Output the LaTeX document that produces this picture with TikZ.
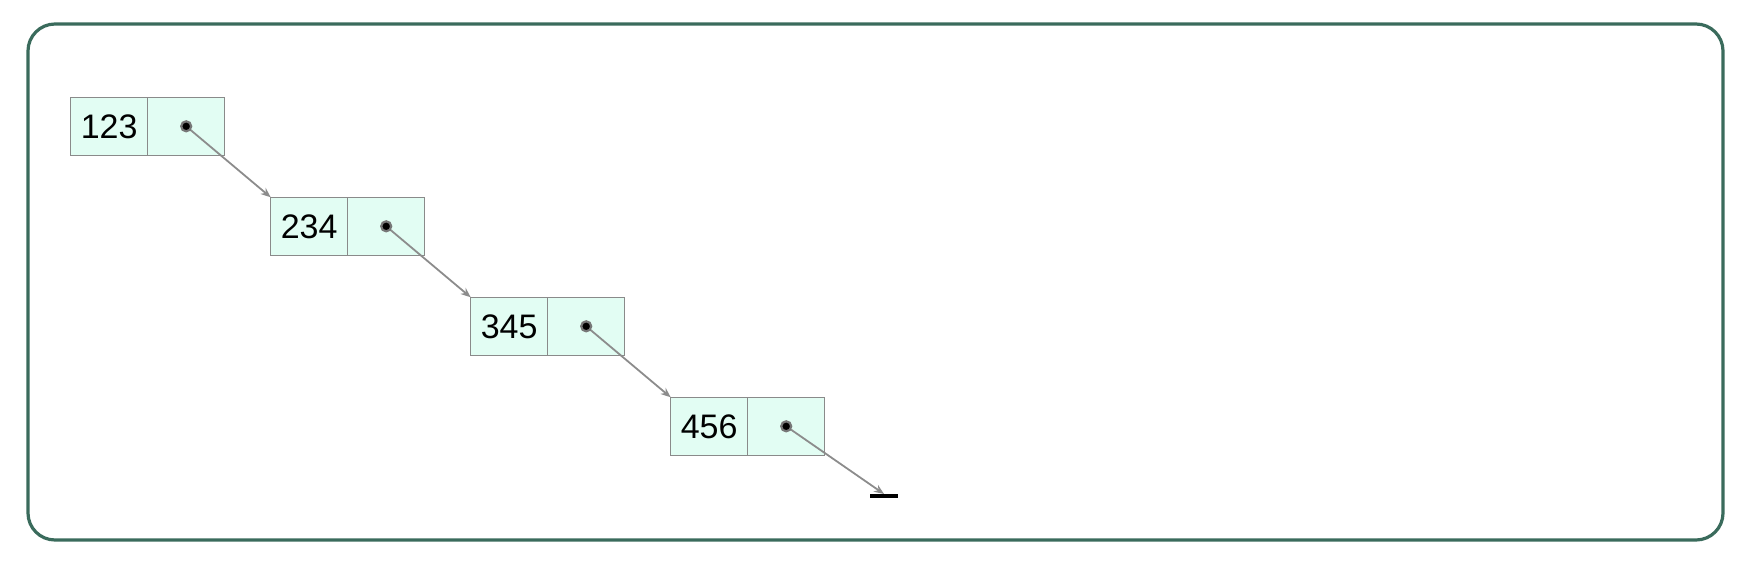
\documentclass[tikz,border=0pt]{standalone}
\usepackage{fontspec}
\setmainfont{Liberation Sans}
\usetikzlibrary{arrows.meta}
\definecolor{framec}{HTML}{3A6B5C}
\definecolor{cellfill}{HTML}{E2FDF3}
\definecolor{cellborder}{HTML}{8A8A8A}
\definecolor{arrowc}{HTML}{8C8C8C}
\tikzset{
  cell/.style={draw=cellborder, fill=cellfill, line width=1.5pt, outer sep=0pt, minimum width=77pt, minimum height=58pt, inner sep=0pt, font=\fontsize{34}{38}\selectfont},
  ptrdot/.style={circle, fill=black, draw=arrowc!85!black, line width=2.2pt, minimum size=10pt, inner sep=0pt},
  link/.style={draw=arrowc, line width=1.8pt, -{Stealth[length=10pt,width=8pt]}},
  frameline/.style={draw=framec, line width=3.2pt, rounded corners=27pt}
}
\begin{document}
\begin{tikzpicture}[x=1pt,y=-1pt]
\useasboundingbox (0,0) rectangle (1762,560);
\draw[frameline] (28,24) rectangle (1723,540);
\foreach \i/\v in {1/123,2/234,3/345,4/456}{
  \node[cell, anchor=north west] (v\i) at ({70.7+200*(\i-1)},{97.3+100*(\i-1)}) {\v};
  \node[cell, anchor=west] (p\i) at (v\i.east) {};
}
\coordinate (nil) at (884,494);
\draw[link] (p1.center) -- (v2.north west);
\draw[link] (p2.center) -- (v3.north west);
\draw[link] (p3.center) -- (v4.north west);
\draw[link] (p4.center) -- (nil);
\foreach \i in {1,2,3,4}{
  \node[ptrdot] (d\i) at (p\i.center) {};
}
\draw[line width=4pt, black] ([xshift=-14pt,yshift=-2pt]nil) -- ([xshift=14pt,yshift=-2pt]nil);
\end{tikzpicture}
\end{document}
